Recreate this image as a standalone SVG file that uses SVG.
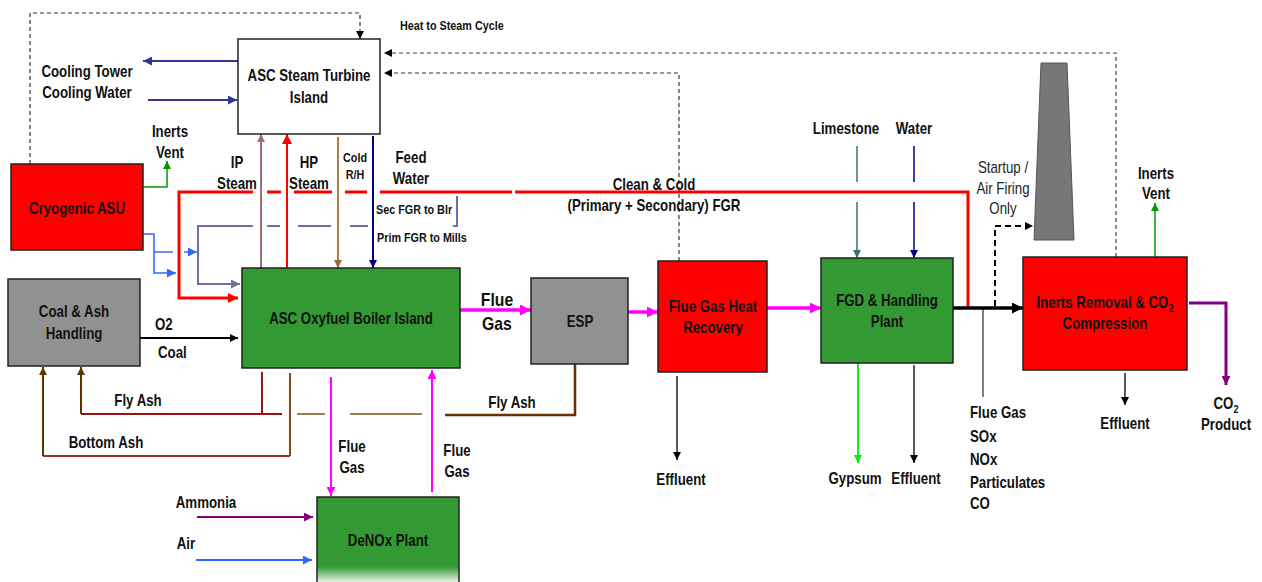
<svg xmlns="http://www.w3.org/2000/svg" width="1262" height="582" viewBox="0 0 1262 582">
<style>
text{font-family:"Liberation Sans",Arial,sans-serif;font-weight:bold;font-size:16px;fill:#111;text-anchor:middle}
.s{text-anchor:start}
.sm{font-size:13px}
.big{font-size:19px}
.reg{font-weight:normal;fill:#222}
.box{stroke:#222;stroke-width:1.5}
.red{fill:#ff0000}
.green{fill:#339933}
.gray{fill:#919191}
path{fill:none}
.dash{stroke:#333;stroke-width:1.2;stroke-dasharray:4 3}
</style>
<defs>
<marker id="aK" viewBox="0 0 10 10" refX="10" refY="5" markerWidth="8" markerHeight="8" markerUnits="userSpaceOnUse" orient="auto"><path d="M0,0L10,5L0,10z" style="fill:#000"/></marker>
<marker id="aKb" viewBox="0 0 10 10" refX="10" refY="5" markerWidth="11" markerHeight="11" markerUnits="userSpaceOnUse" orient="auto"><path d="M0,0L10,5L0,10z" style="fill:#000"/></marker>
<marker id="aM" viewBox="0 0 10 10" refX="10" refY="5" markerWidth="9" markerHeight="9" markerUnits="userSpaceOnUse" orient="auto"><path d="M0,0L10,5L0,10z" style="fill:#ff00ff"/></marker>
<marker id="aMb" viewBox="0 0 10 10" refX="10" refY="5" markerWidth="11" markerHeight="11" markerUnits="userSpaceOnUse" orient="auto"><path d="M0,0L10,5L0,10z" style="fill:#ff00ff"/></marker>
<marker id="aR" viewBox="0 0 10 10" refX="10" refY="5" markerWidth="10" markerHeight="10" markerUnits="userSpaceOnUse" orient="auto"><path d="M0,0L10,5L0,10z" style="fill:#ff0000"/></marker>
<marker id="aN" viewBox="0 0 10 10" refX="10" refY="5" markerWidth="8" markerHeight="8" markerUnits="userSpaceOnUse" orient="auto"><path d="M0,0L10,5L0,10z" style="fill:#000080"/></marker>
<marker id="aD" viewBox="0 0 10 10" refX="10" refY="5" markerWidth="9" markerHeight="9" markerUnits="userSpaceOnUse" orient="auto"><path d="M0,0L10,5L0,10z" style="fill:#333399"/></marker>
<marker id="aB" viewBox="0 0 10 10" refX="10" refY="5" markerWidth="9" markerHeight="9" markerUnits="userSpaceOnUse" orient="auto"><path d="M0,0L10,5L0,10z" style="fill:#3366ff"/></marker>
<marker id="aS" viewBox="0 0 10 10" refX="10" refY="5" markerWidth="9" markerHeight="9" markerUnits="userSpaceOnUse" orient="auto"><path d="M0,0L10,5L0,10z" style="fill:#6f6fa8"/></marker>
<marker id="aG" viewBox="0 0 10 10" refX="10" refY="5" markerWidth="8" markerHeight="8" markerUnits="userSpaceOnUse" orient="auto"><path d="M0,0L10,5L0,10z" style="fill:#009900"/></marker>
<marker id="aLG" viewBox="0 0 10 10" refX="10" refY="5" markerWidth="8" markerHeight="8" markerUnits="userSpaceOnUse" orient="auto"><path d="M0,0L10,5L0,10z" style="fill:#00ee00"/></marker>
<marker id="aP" viewBox="0 0 10 10" refX="10" refY="5" markerWidth="9" markerHeight="9" markerUnits="userSpaceOnUse" orient="auto"><path d="M0,0L10,5L0,10z" style="fill:#800080"/></marker>
<marker id="aBr" viewBox="0 0 10 10" refX="10" refY="5" markerWidth="8" markerHeight="8" markerUnits="userSpaceOnUse" orient="auto"><path d="M0,0L10,5L0,10z" style="fill:#996633"/></marker>
<marker id="aRo" viewBox="0 0 10 10" refX="10" refY="5" markerWidth="8" markerHeight="8" markerUnits="userSpaceOnUse" orient="auto"><path d="M0,0L10,5L0,10z" style="fill:#a07070"/></marker>
<marker id="aT" viewBox="0 0 10 10" refX="10" refY="5" markerWidth="8" markerHeight="8" markerUnits="userSpaceOnUse" orient="auto"><path d="M0,0L10,5L0,10z" style="fill:#3d7070"/></marker>
<marker id="aDB" viewBox="0 0 10 10" refX="10" refY="5" markerWidth="8" markerHeight="8" markerUnits="userSpaceOnUse" orient="auto"><path d="M0,0L10,5L0,10z" style="fill:#663300"/></marker>
<linearGradient id="denoxFill" gradientUnits="userSpaceOnUse" x1="0" y1="497" x2="0" y2="584">
<stop offset="0" stop-color="#339933"/><stop offset="0.8" stop-color="#339933"/><stop offset="1" stop-color="#ffffff"/>
</linearGradient>
</defs>
<rect width="1262" height="582" fill="#fff"/>

<g id="connectors">
<!-- dashed heat lines -->
<path class="dash" d="M30,164 V13 H360 V39" marker-end="url(#aK)"/>
<path class="dash" d="M1116,257 V53 H384" marker-end="url(#aK)" style="stroke:#444"/>
<path class="dash" d="M679,261 V73 H384" marker-end="url(#aK)"/>
<!-- cooling water -->
<path d="M238,61 H143" stroke="#333399" stroke-width="2" marker-end="url(#aD)"/>
<path d="M148,100 H237" stroke="#333399" stroke-width="2" marker-end="url(#aD)"/>
<!-- steam lines -->
<path d="M261,268 V134" stroke="#a07070" stroke-width="2" marker-end="url(#aRo)"/>
<path d="M287,268 V134" stroke="#ff0000" stroke-width="2" marker-end="url(#aR)"/>
<path d="M338,137 V268" stroke="#b07a40" stroke-width="2" marker-end="url(#aBr)"/>
<path d="M373,136 V268" stroke="#000080" stroke-width="2" marker-end="url(#aN)"/>
<!-- FGR red -->
<path d="M968,308 V192 H515" stroke="#ff0000" stroke-width="3"/>
<path d="M512,192 H380" stroke="#ff0000" stroke-width="3"/>
<path d="M367,192 H345" stroke="#ff0000" stroke-width="3"/>
<path d="M332,192 H294" stroke="#ff0000" stroke-width="3"/>
<path d="M281,192 H267" stroke="#ff0000" stroke-width="3"/>
<path d="M253,192 H179 V298 H238" stroke="#ff0000" stroke-width="3" marker-end="url(#aR)"/>
<!-- FGR slate -->
<path d="M457,196 V226 H453" stroke="#6f6fa8" stroke-width="2"/>
<path d="M368,226 H350" stroke="#6f6fa8" stroke-width="2"/>
<path d="M331,226 H298" stroke="#6f6fa8" stroke-width="2"/>
<path d="M280,226 H267" stroke="#6f6fa8" stroke-width="2"/>
<path d="M253,226 H198 V284 H240" stroke="#6f6fa8" stroke-width="2" marker-end="url(#aS)"/>
<!-- O2 from ASU -->
<path d="M143,234 H154 V273 H176" stroke="#3366ff" stroke-width="1.5" marker-end="url(#aB)"/>
<path d="M154,252 H173" stroke="#3366ff" stroke-width="1.5"/>
<path d="M184,252 H197" stroke="#3366ff" stroke-width="1.5" marker-end="url(#aB)"/>
<!-- ASU inerts vent -->
<path d="M143,187 H167 V161" stroke="#009900" stroke-width="1.5" marker-end="url(#aG)"/>
<!-- coal -->
<path d="M140,338 H238" stroke="#000" stroke-width="2" marker-end="url(#aK)"/>
<!-- ash -->
<path d="M262,372 V414" stroke="#8b1a1a" stroke-width="2"/>
<path d="M282,414 H81" stroke="#991111" stroke-width="2"/>
<path d="M81,414 V367" stroke="#663300" stroke-width="2" marker-end="url(#aDB)"/>
<path d="M290,373 V456" stroke="#8b4513" stroke-width="2"/>
<path d="M290,456 H43" stroke="#993333" stroke-width="2"/>
<path d="M43,456 V367" stroke="#663300" stroke-width="2" marker-end="url(#aDB)"/>
<path d="M575,364 V415 H445" stroke="#663300" stroke-width="2.5"/>
<path d="M422,414 H350" stroke="#a07a50" stroke-width="2"/>
<path d="M325,414 H297" stroke="#a07a50" stroke-width="2"/>
<!-- flue gas -->
<path d="M460,310 H531" stroke="#ff00ff" stroke-width="3.5" marker-end="url(#aMb)"/>
<path d="M628,312 H658" stroke="#ff00ff" stroke-width="3.5" marker-end="url(#aMb)"/>
<path d="M767,308 H821" stroke="#ff00ff" stroke-width="3.5" marker-end="url(#aMb)"/>
<path d="M331,377 V496" stroke="#ff00ff" stroke-width="2" marker-end="url(#aM)"/>
<path d="M432,492 V370" stroke="#ff00ff" stroke-width="2" marker-end="url(#aM)"/>
<!-- DeNOx inputs -->
<path d="M197,517 H313" stroke="#800080" stroke-width="2" marker-end="url(#aP)"/>
<path d="M196,560 H312" stroke="#3366ff" stroke-width="2" marker-end="url(#aB)"/>
<!-- FGHR effluent -->
<path d="M677,376 V460" stroke="#000" stroke-width="1.3" marker-end="url(#aK)"/>
<!-- FGD inputs/outputs -->
<path d="M857,146 V182" stroke="#3d7070" stroke-width="1.5"/>
<path d="M857,202 V258" stroke="#3d7070" stroke-width="1.5" marker-end="url(#aT)"/>
<path d="M914,146 V182" stroke="#000080" stroke-width="1.5"/>
<path d="M914,202 V258" stroke="#000080" stroke-width="1.5" marker-end="url(#aN)"/>
<path d="M858,363 V463" stroke="#00ee00" stroke-width="1.8" marker-end="url(#aLG)"/>
<path d="M914,365 V463" stroke="#000" stroke-width="1.3" marker-end="url(#aK)"/>
<!-- main flue gas to CO2 -->
<path d="M953,308 H1023" stroke="#000" stroke-width="3.5" marker-end="url(#aKb)"/>
<path d="M995,306 V226 H1033" stroke="#000" stroke-width="2" stroke-dasharray="6 4" marker-end="url(#aK)"/>
<path d="M983,309 V397" stroke="#000" stroke-width="1"/>
<!-- inerts removal outputs -->
<path d="M1155,257 V203" stroke="#009900" stroke-width="1.5" marker-end="url(#aG)"/>
<path d="M1189,303 H1226 V385" stroke="#800080" stroke-width="3" marker-end="url(#aP)"/>
<path d="M1125,373 V405" stroke="#000" stroke-width="1.3" marker-end="url(#aK)"/>
</g>

<g id="connector-labels">
<text class="s sm" transform="translate(400,29.5) scale(.83,1)">Heat to Steam Cycle</text>
<text transform="translate(87,76.5) scale(.83,1)">Cooling Tower</text>
<text transform="translate(87,97.5) scale(.83,1)">Cooling Water</text>
<text transform="translate(170,136.5) scale(.83,1)">Inerts</text>
<text transform="translate(170,157.5) scale(.83,1)">Vent</text>
<text transform="translate(237,167.5) scale(.83,1)">IP</text>
<text transform="translate(237,188.5) scale(.83,1)">Steam</text>
<text transform="translate(309,167.5) scale(.83,1)">HP</text>
<text transform="translate(309,188.5) scale(.83,1)">Steam</text>
<text class="sm" transform="translate(355,161.5) scale(.83,1)">Cold</text>
<text class="sm" transform="translate(355,178.5) scale(.83,1)">R/H</text>
<text transform="translate(411,162.5) scale(.83,1)">Feed</text>
<text transform="translate(411,183.5) scale(.83,1)">Water</text>
<text class="s sm" transform="translate(376,213.5) scale(.83,1)">Sec FGR to Blr</text>
<text class="s sm" transform="translate(377,241.5) scale(.83,1)">Prim FGR to Mills</text>
<text transform="translate(654,189.5) scale(.83,1)">Clean &amp; Cold</text>
<text transform="translate(654,210.5) scale(.83,1)">(Primary + Secondary) FGR</text>
<text transform="translate(846,133.5) scale(.83,1)">Limestone</text>
<text transform="translate(914,133.5) scale(.83,1)">Water</text>
<text class="reg" transform="translate(1003,172.5) scale(.83,1)">Startup /</text>
<text class="reg" transform="translate(1003,193.5) scale(.83,1)">Air Firing</text>
<text class="reg" transform="translate(1003,213.5) scale(.83,1)">Only</text>
<text transform="translate(1156,178.5) scale(.83,1)">Inerts</text>
<text transform="translate(1156,198.5) scale(.83,1)">Vent</text>
<text class="s" transform="translate(155,329.5) scale(.83,1)">O2</text>
<text class="s" transform="translate(158,357.5) scale(.83,1)">Coal</text>
<text class="big" transform="translate(497,306) scale(.83,1)">Flue</text>
<text class="big" transform="translate(497,330) scale(.83,1)">Gas</text>
<text transform="translate(138,405.5) scale(.83,1)">Fly Ash</text>
<text transform="translate(512,407.5) scale(.83,1)">Fly Ash</text>
<text transform="translate(106,447.5) scale(.83,1)">Bottom Ash</text>
<text transform="translate(352,451.5) scale(.83,1)">Flue</text>
<text transform="translate(352,472.5) scale(.83,1)">Gas</text>
<text transform="translate(457,455.5) scale(.83,1)">Flue</text>
<text transform="translate(457,476.5) scale(.83,1)">Gas</text>
<text transform="translate(206,507.5) scale(.83,1)">Ammonia</text>
<text transform="translate(186,548.5) scale(.83,1)">Air</text>
<text transform="translate(681,484.5) scale(.83,1)">Effluent</text>
<text transform="translate(855,483.5) scale(.83,1)">Gypsum</text>
<text transform="translate(916,483.5) scale(.83,1)">Effluent</text>
<text class="s" transform="translate(970,418) scale(.83,1)">Flue Gas</text>
<text class="s" transform="translate(970,442) scale(.83,1)">SOx</text>
<text class="s" transform="translate(970,465) scale(.83,1)">NOx</text>
<text class="s" transform="translate(970,488) scale(.83,1)">Particulates</text>
<text class="s" transform="translate(970,509) scale(.83,1)">CO</text>
<text transform="translate(1125,428.5) scale(.83,1)">Effluent</text>
<text transform="translate(1226,408.5) scale(.83,1)">CO<tspan font-size="11" dy="4">2</tspan></text>
<text transform="translate(1226,429.5) scale(.83,1)">Product</text>
</g>

<g id="steam-turbine">
<rect class="box" x="238" y="39" width="142" height="95" fill="#fff"/>
<text transform="translate(309,80.5) scale(.83,1)">ASC Steam Turbine</text>
<text transform="translate(309,102.5) scale(.83,1)">Island</text>
</g>
<g id="cryogenic-asu">
<rect class="box red" x="11" y="164" width="132" height="86"/>
<text transform="translate(77,213.5) scale(.83,1)">Cryogenic ASU</text>
</g>
<g id="coal-ash-handling">
<rect class="box gray" x="8" y="279" width="132" height="87"/>
<text transform="translate(74,317) scale(.83,1)">Coal &amp; Ash</text>
<text transform="translate(74,338.5) scale(.83,1)">Handling</text>
</g>
<g id="boiler-island">
<rect class="box green" x="242" y="268" width="218" height="100"/>
<text transform="translate(351,323.5) scale(.83,1)">ASC Oxyfuel Boiler Island</text>
</g>
<g id="esp">
<rect class="box gray" x="531" y="278" width="97" height="86"/>
<text transform="translate(580,326.5) scale(.83,1)">ESP</text>
</g>
<g id="flue-gas-heat-recovery">
<rect class="box red" x="658" y="261" width="109" height="111"/>
<text transform="translate(713,312) scale(.83,1)">Flue Gas Heat</text>
<text transform="translate(713,333) scale(.83,1)">Recovery</text>
</g>
<g id="fgd-plant">
<rect class="box green" x="821" y="258" width="132" height="105"/>
<text transform="translate(887,306) scale(.83,1)">FGD &amp; Handling</text>
<text transform="translate(887,326.5) scale(.83,1)">Plant</text>
</g>
<g id="inerts-removal">
<rect class="box red" x="1023" y="257" width="164" height="113"/>
<text transform="translate(1105,307.5) scale(.83,1)">Inerts Removal &amp; CO<tspan font-size="11" dy="4">2</tspan></text>
<text transform="translate(1105,328.5) scale(.83,1)">Compression</text>
</g>
<g id="stack">
<polygon points="1041,63 1067,63 1074,240 1034,240" fill="#777" stroke="#555" stroke-width="1"/>
</g>
<g id="denox-plant">
<rect x="317" y="497" width="142" height="90" fill="url(#denoxFill)"/>
<path d="M317,590 V497 H459 V590" stroke="#222" stroke-width="1.5"/>
<text transform="translate(388,545.5) scale(.83,1)">DeNOx Plant</text>
</g>
</svg>
